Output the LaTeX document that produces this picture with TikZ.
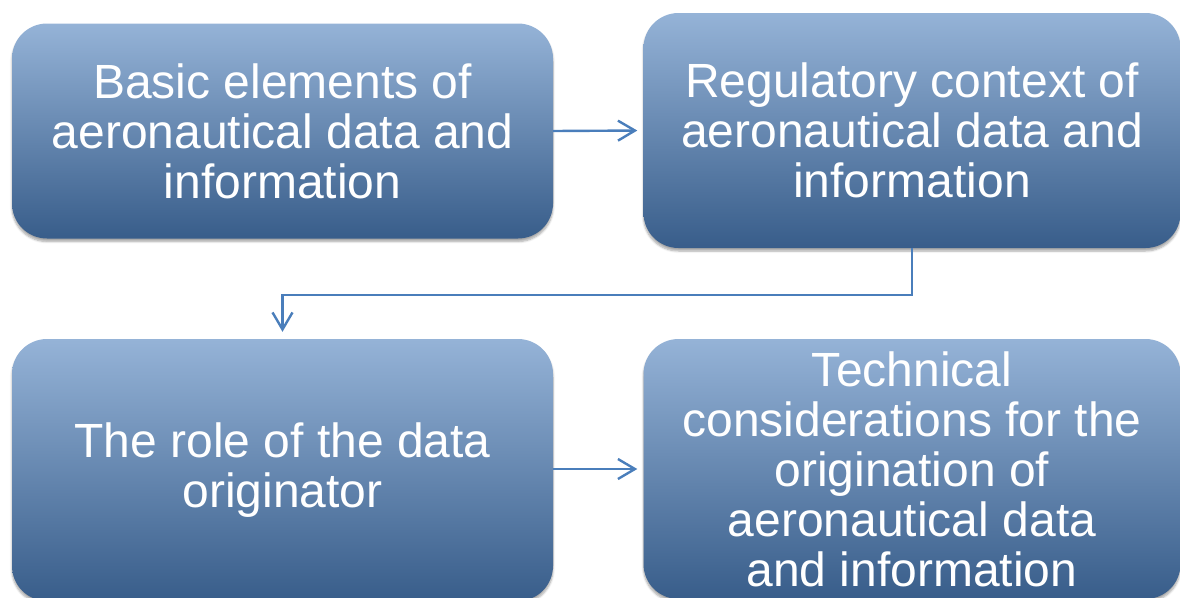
\documentclass[tikz,border=0pt]{standalone}
\usepackage{fontspec}
\setmainfont{Liberation Sans}
\usetikzlibrary{arrows.meta,shadows.blur}
\definecolor{boxtop}{HTML}{95B3D7}
\definecolor{boxmid}{HTML}{4F81BD}
\definecolor{boxbot}{HTML}{385D8A}
\definecolor{linkblue}{HTML}{4A7EBB}

\begin{document}
\begin{tikzpicture}[x=1pt,y=-1pt,
block/.style={rounded corners=35pt, inner sep=0pt, align=center, text=white,
  font=\fontsize{48}{50}\selectfont, top color=boxtop, middle color=boxmid, bottom color=boxbot,
  blur shadow={shadow xshift=0pt, shadow yshift=-3pt, shadow blur steps=6, shadow opacity=35}},
link/.style={draw=linkblue, line width=2.4pt, -{Straight Barb[length=17pt, width=20pt]}, shorten >=6pt}]

\useasboundingbox (0,0) rectangle (1180,597);
\node[block, minimum width=541pt, minimum height=215pt] (basic) at (282.5,131) {Basic elements of\\aeronautical data and\\information};
\node[block, minimum width=537pt, minimum height=235pt] (regulatory) at (912,130.5) {Regulatory context of\\aeronautical data and\\information};
\node[block, minimum width=541pt, minimum height=262pt] (role) at (282.5,470) {The role of the data\\originator};
\node[block, minimum width=537pt, minimum height=260pt] (technical) at (912,469) {Technical\\considerations for the\\origination of\\aeronautical data\\and information};

\draw[link] (basic.east) -- (regulatory.west);
\draw[link, shorten >=7pt] (regulatory.south) -- ++(0,47) -| (role.north);
\draw[link] (role.east|-technical.west) -- (technical.west);
\end{tikzpicture}
\end{document}
